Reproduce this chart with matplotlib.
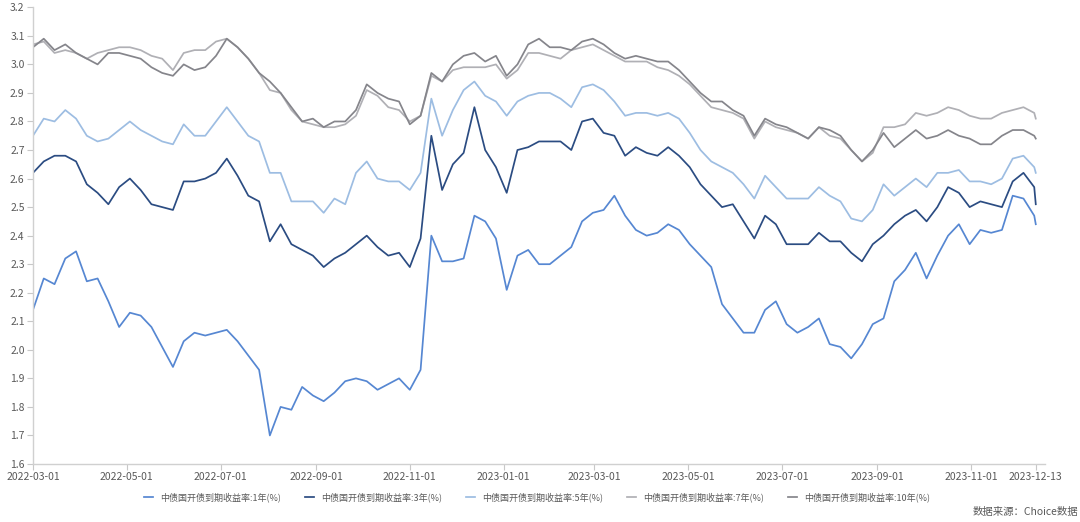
import matplotlib
matplotlib.use("Agg")
import matplotlib.pyplot as plt
import pandas as pd

plt.rcParams['font.family'] = ['Noto Sans CJK SC', 'DejaVu Sans']

# weekly sampling grid from 2022-03-01 plus the final observation
dates = list(pd.date_range("2022-03-01", periods=94, freq="7D")) + [pd.Timestamp("2023-12-13")]

y1 = [2.14, 2.25, 2.23, 2.32, 2.345, 2.24, 2.25, 2.17, 2.08, 2.13, 2.12, 2.08, 2.01, 1.94, 2.03, 2.06,
      2.05, 2.06, 2.07, 2.03, 1.98, 1.93, 1.70, 1.80, 1.79, 1.87, 1.84, 1.82, 1.85, 1.89, 1.90, 1.89,
      1.86, 1.88, 1.90, 1.86, 1.93, 2.40, 2.31, 2.31, 2.32, 2.47, 2.45, 2.39, 2.21, 2.33, 2.35, 2.30,
      2.30, 2.33, 2.36, 2.45, 2.48, 2.49, 2.54, 2.47, 2.42, 2.40, 2.41, 2.44, 2.42, 2.37, 2.33, 2.29,
      2.16, 2.11, 2.06, 2.06, 2.14, 2.17, 2.09, 2.06, 2.08, 2.11, 2.02, 2.01, 1.97, 2.02, 2.09, 2.11,
      2.24, 2.28, 2.34, 2.25, 2.33, 2.40, 2.44, 2.37, 2.42, 2.41, 2.42, 2.54, 2.53, 2.47, 2.44]

y3 = [2.62, 2.66, 2.68, 2.68, 2.66, 2.58, 2.55, 2.51, 2.57, 2.60, 2.56, 2.51, 2.50, 2.49, 2.59, 2.59,
      2.60, 2.62, 2.67, 2.61, 2.54, 2.52, 2.38, 2.44, 2.37, 2.35, 2.33, 2.29, 2.32, 2.34, 2.37, 2.40,
      2.36, 2.33, 2.34, 2.29, 2.39, 2.75, 2.56, 2.65, 2.69, 2.85, 2.70, 2.64, 2.55, 2.70, 2.71, 2.73,
      2.73, 2.73, 2.70, 2.80, 2.81, 2.76, 2.75, 2.68, 2.71, 2.69, 2.68, 2.71, 2.68, 2.64, 2.58, 2.54,
      2.50, 2.51, 2.45, 2.39, 2.47, 2.44, 2.37, 2.37, 2.37, 2.41, 2.38, 2.38, 2.34, 2.31, 2.37, 2.40,
      2.44, 2.47, 2.49, 2.45, 2.50, 2.57, 2.55, 2.50, 2.52, 2.51, 2.50, 2.59, 2.62, 2.57, 2.51]

y5 = [2.75, 2.81, 2.80, 2.84, 2.81, 2.75, 2.73, 2.74, 2.77, 2.80, 2.77, 2.75, 2.73, 2.72, 2.79, 2.75,
      2.75, 2.80, 2.85, 2.80, 2.75, 2.73, 2.62, 2.62, 2.52, 2.52, 2.52, 2.48, 2.53, 2.51, 2.62, 2.66,
      2.60, 2.59, 2.59, 2.56, 2.62, 2.88, 2.75, 2.84, 2.91, 2.94, 2.89, 2.87, 2.82, 2.87, 2.89, 2.90,
      2.90, 2.88, 2.85, 2.92, 2.93, 2.91, 2.87, 2.82, 2.83, 2.83, 2.82, 2.83, 2.81, 2.76, 2.70, 2.66,
      2.64, 2.62, 2.58, 2.53, 2.61, 2.57, 2.53, 2.53, 2.53, 2.57, 2.54, 2.52, 2.46, 2.45, 2.49, 2.58,
      2.54, 2.57, 2.60, 2.57, 2.62, 2.62, 2.63, 2.59, 2.59, 2.58, 2.60, 2.67, 2.68, 2.64, 2.62]

y7 = [3.07, 3.08, 3.04, 3.05, 3.04, 3.02, 3.04, 3.05, 3.06, 3.06, 3.05, 3.03, 3.02, 2.98, 3.04, 3.05,
      3.05, 3.08, 3.09, 3.06, 3.02, 2.97, 2.91, 2.90, 2.84, 2.80, 2.79, 2.78, 2.78, 2.79, 2.82, 2.91,
      2.89, 2.85, 2.84, 2.80, 2.82, 2.96, 2.94, 2.98, 2.99, 2.99, 2.99, 3.00, 2.95, 2.98, 3.04, 3.04,
      3.03, 3.02, 3.05, 3.06, 3.07, 3.05, 3.03, 3.01, 3.01, 3.01, 2.99, 2.98, 2.96, 2.93, 2.89, 2.85,
      2.84, 2.83, 2.81, 2.74, 2.80, 2.78, 2.77, 2.76, 2.74, 2.78, 2.75, 2.74, 2.70, 2.66, 2.69, 2.78,
      2.78, 2.79, 2.83, 2.82, 2.83, 2.85, 2.84, 2.82, 2.81, 2.81, 2.83, 2.84, 2.85, 2.83, 2.81]

y10 = [3.06, 3.09, 3.05, 3.07, 3.04, 3.02, 3.00, 3.04, 3.04, 3.03, 3.02, 2.99, 2.97, 2.96, 3.00, 2.98,
       2.99, 3.03, 3.09, 3.06, 3.02, 2.97, 2.94, 2.90, 2.85, 2.80, 2.81, 2.78, 2.80, 2.80, 2.84, 2.93,
       2.90, 2.88, 2.87, 2.79, 2.82, 2.97, 2.94, 3.00, 3.03, 3.04, 3.01, 3.03, 2.96, 3.00, 3.07, 3.09,
       3.06, 3.06, 3.05, 3.08, 3.09, 3.07, 3.04, 3.02, 3.03, 3.02, 3.01, 3.01, 2.98, 2.94, 2.90, 2.87,
       2.87, 2.84, 2.82, 2.75, 2.81, 2.79, 2.78, 2.76, 2.74, 2.78, 2.77, 2.75, 2.70, 2.66, 2.70, 2.76,
       2.71, 2.74, 2.77, 2.74, 2.75, 2.77, 2.75, 2.74, 2.72, 2.72, 2.75, 2.77, 2.77, 2.75, 2.74]

labels = ["中债国开债到期收益率:1年(%)", "中债国开债到期收益率:3年(%)", "中债国开债到期收益率:5年(%)",
          "中债国开债到期收益率:7年(%)", "中债国开债到期收益率:10年(%)"]
colors = ["#5687d2", "#2b4c82", "#9dbde2", "#b0b0b5", "#85858b"]

tick_dates = ["2022-03-01", "2022-05-01", "2022-07-01", "2022-09-01", "2022-11-01", "2023-01-01",
              "2023-03-01", "2023-05-01", "2023-07-01", "2023-09-01", "2023-11-01", "2023-12-13"]
y_ticks = [1.6, 1.7, 1.8, 1.9, 2.0, 2.1, 2.2, 2.3, 2.4, 2.5, 2.6, 2.7, 2.8, 2.9, 3.0, 3.1, 3.2]

fig = plt.figure(figsize=(10.8, 5.22), dpi=100)
ax = fig.add_axes([33 / 1080, 1 - 464 / 522, (1045 - 33) / 1080, (464 - 7.3) / 522])

for ys, lab, c in zip([y1, y3, y5, y7, y10], labels, colors):
    ax.plot(dates, ys, color=c, lw=1.25, label=lab)

ax.set_xlim(pd.Timestamp("2022-03-01"), pd.Timestamp("2023-12-19"))
ax.set_ylim(1.6, 3.2)
ax.set_yticks(y_ticks)
ax.set_yticklabels([f"{v:.1f}" for v in y_ticks])
ax.set_xticks([pd.Timestamp(d) for d in tick_dates])
ax.set_xticklabels(tick_dates)

for s in ["top", "right"]:
    ax.spines[s].set_visible(False)
for s in ["left", "bottom"]:
    ax.spines[s].set_color("#d0d0d0")
    ax.spines[s].set_linewidth(1.0)
ax.tick_params(axis="both", colors="#c8c8c8", length=4, width=0.8, labelsize=7.5,
               labelcolor="#595959", pad=2)

leg = fig.legend(loc="center", bbox_to_anchor=(537 / 1080, 1 - 497 / 522), ncol=5, frameon=False,
                 fontsize=6.5, handlelength=1.0, columnspacing=2.65, handletextpad=0.8)
for t in leg.get_texts():
    t.set_color("#595959")

fig.text(1078 / 1080, 1 - 512 / 522, "数据来源：Choice数据", ha="right", va="center",
         fontsize=7.5, color="#595959")

fig.savefig("out.png", dpi=100)
